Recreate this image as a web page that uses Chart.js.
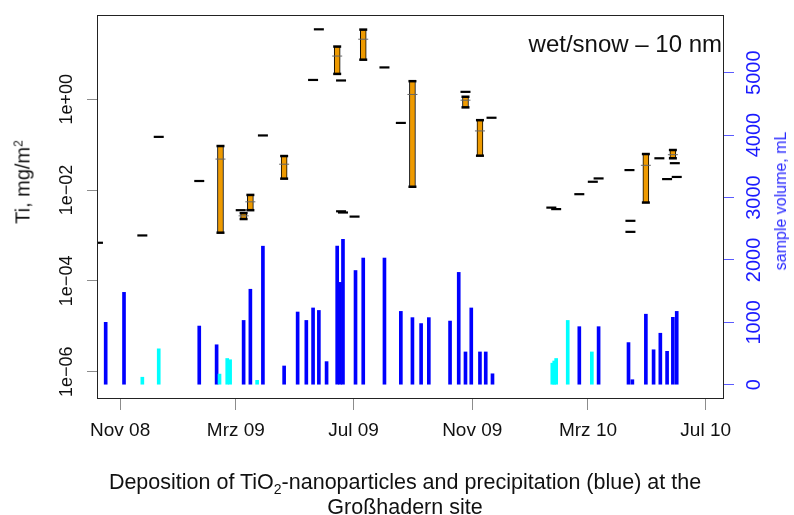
<!DOCTYPE html>
<html>
<head>
<meta charset="utf-8">
<title>TiO2 deposition Großhadern</title>
<script src="https://cdn.jsdelivr.net/npm/chart.js@4.4.1/dist/chart.umd.min.js"></script>
<style>
  body { margin: 0; background: #fff; }
  #wrap { position: relative; width: 794px; height: 515px; font-family: "Liberation Sans", Arial, sans-serif; color: #111; }
  #c { position: absolute; left: 0; top: 0; }
  .rot { position: absolute; white-space: nowrap; transform: translate(-50%, -50%) rotate(-90deg); }
  #ytitle { left: 23px; top: 182px; font-size: 20px; }
  #ytitle sup { font-size: 12px; vertical-align: 7px; line-height: 0; }
  #y2title { left: 781px; top: 201px; font-size: 16px; color: #2a2aff; }
  #note { position: absolute; right: 72px; top: 30px; font-size: 24px; line-height: 28px; white-space: nowrap; }
  #caption { position: absolute; left: 8px; top: 470px; width: 794px; text-align: center; font-size: 21.5px; line-height: 25px; }
  #caption sub { font-size: 14px; vertical-align: -5px; line-height: 0; }
</style>
</head>
<body>
<div id="wrap">
  <canvas id="c" width="794" height="515"></canvas>
  <div class="rot" id="ytitle">Ti, mg/m<sup>2</sup></div>
  <div class="rot" id="y2title">sample volume, mL</div>
  <div id="note">wet/snow &ndash; 10 nm</div>
  <div id="caption">Deposition of TiO<sub>2</sub>-nanoparticles and precipitation (blue) at the<br>Großhadern site</div>
</div>
<script>
// rain samples (blue), sample volume in mL
const rainDates = ['2008-10-17','2008-11-05','2009-01-22','2009-02-09','2009-03-09','2009-03-16','2009-03-29',
  '2009-04-20','2009-05-04','2009-05-13','2009-05-20','2009-05-26','2009-06-03','2009-06-14','2009-06-17',
  '2009-06-20','2009-07-03','2009-07-11','2009-08-02','2009-08-19','2009-08-31','2009-09-09','2009-09-17',
  '2009-10-09','2009-10-18','2009-10-25','2009-10-31','2009-11-09','2009-11-15','2009-11-22','2010-02-20',
  '2010-03-12','2010-04-12','2010-04-16','2010-04-30','2010-05-08','2010-05-15','2010-05-22','2010-05-28','2010-06-01'];
const rainVolume = [1000,1480,940,640,1030,1530,2220,
  300,1165,1030,1230,1190,370,2220,1640,
  2330,1830,2030,2030,1175,1075,980,1075,
  1020,1800,525,1230,525,525,175,930,
  930,675,80,1130,560,825,535,1080,1175];

// snow samples (cyan)
const snowDates = ['2008-11-24','2008-12-11','2009-02-12','2009-02-20','2009-02-23','2009-03-23',
  '2010-01-23','2010-01-25','2010-01-27','2010-02-08','2010-03-05'];
const snowVolume = [120,575,170,420,400,70,345,380,420,1030,525];

// Ti deposition, boxes: min / median / max in mg/m2
const boxDates = ['2009-02-13','2009-03-09','2009-03-16','2009-04-20','2009-06-14','2009-07-11',
  '2009-08-31','2009-10-25','2009-11-09','2010-04-30','2010-05-28'];
const boxLow  = [0.00115,0.0023,0.0036,0.0178,3.6,7.4,0.0118,0.66,0.057,0.0053,0.050];
const boxMed  = [0.048,0.0027,0.0055,0.037,8.9,20.9,1.27,0.95,0.20,0.035,0.060];
const boxHigh = [0.093,0.0031,0.0078,0.056,14.4,34,2.49,1.13,0.345,0.062,0.076];

// Ti deposition, single samples in mg/m2
const singleDates = ['2008-10-09','2008-11-24','2008-12-11','2009-01-22','2009-03-06','2009-03-29',
  '2009-05-20','2009-05-26','2009-06-18','2009-06-18','2009-06-20','2009-07-02','2009-08-02','2009-08-19',
  '2009-10-25','2009-11-21','2010-01-22','2010-01-27','2010-02-20','2010-03-06','2010-03-12','2010-04-13',
  '2010-04-14','2010-04-14','2010-05-14','2010-05-22','2010-05-30','2010-06-01'];
const singleTi = [6.9e-4,1.0e-3,0.148,0.0158,0.0036,0.159,
  2.65,34.5,2.58,0.0034,0.0032,0.0026,5.0,0.30,
  1.45,0.39,0.0041,0.0038,0.0081,0.0152,0.018,0.0275,
  0.0021,0.0012,0.050,0.0174,0.039,0.0194];

// axes
const xStart = '2008-10-08', xEnd = '2010-07-20';
const xTickDates = ['2008-11-01','2009-03-01','2009-07-01','2009-11-01','2010-03-01','2010-07-01'];
const xTickLabels = ['Nov 08','Mrz 09','Jul 09','Nov 09','Mrz 10','Jul 10'];
const yTicks = [1e-6, 1e-4, 1e-2, 1];
const yTickLabels = ['1e\u221206','1e\u221204','1e\u221202','1e+00'];
const volTicks = [0, 1000, 2000, 3000, 4000, 5000];

function day(s) { return Date.parse(s) / 864e5; }
function pts(dates, vals) { return dates.map((d, i) => ({ x: day(d), y: vals[i] })); }

Chart.defaults.font.family = '"Liberation Sans", Arial, sans-serif';

const grey = '#8c8c8c';

// plot frame
const frame = {
  id: 'frame',
  afterDatasetsDraw(chart) {
    const { ctx, chartArea: a } = chart;
    ctx.save();
    ctx.strokeStyle = '#222';
    ctx.lineWidth = 1;
    ctx.strokeRect(a.left + 0.5, a.top + 0.5, a.right - a.left - 1, a.bottom - a.top);
    ctx.restore();
  }
};

function marks(data, radius, width, color) {
  return {
    type: 'scatter', data: data, yAxisID: 'y', clip: 0,
    pointStyle: 'line', pointRadius: radius, pointHoverRadius: radius,
    pointBorderWidth: width, pointBorderColor: color, pointBackgroundColor: color
  };
}

new Chart(document.getElementById('c'), {
  type: 'scatter',
  data: {
    datasets: [
      marks(pts(singleDates, singleTi), 5, 2.2, '#000'),
      marks(pts(boxDates, boxLow).concat(pts(boxDates, boxHigh)), 4, 2.5, '#000'),
      marks(pts(boxDates, boxMed), 5, 1, '#666'),
      {
        type: 'bar', yAxisID: 'y', grouped: false,
        data: boxDates.map((d, i) => ({ x: day(d), y: [boxLow[i], boxHigh[i]] })),
        backgroundColor: '#EE9A00', borderColor: '#000', borderWidth: 1, borderSkipped: false,
        barThickness: 6
      },
      {
        type: 'bar', yAxisID: 'y2', grouped: false,
        data: pts(snowDates, snowVolume),
        backgroundColor: '#00ffff', barThickness: 3
      },
      {
        type: 'bar', yAxisID: 'y2', grouped: false,
        data: pts(rainDates, rainVolume),
        backgroundColor: '#0000ff', barThickness: 3
      }
    ]
  },
  options: {
    responsive: false,
    animation: false,
    events: [],
    layout: { padding: { top: 15, left: 0, right: 0, bottom: 0 } },
    plugins: { legend: { display: false }, tooltip: { enabled: false } },
    scales: {
      x: {
        type: 'linear', position: 'bottom', offset: false,
        min: day(xStart), max: day(xEnd),
        afterBuildTicks: s => { s.ticks = xTickDates.map(d => ({ value: day(d) })); },
        afterFit: s => { s.height = 117; },
        grid: { offset: false, drawOnChartArea: false, drawTicks: true, tickLength: 12, color: grey },
        border: { display: false },
        ticks: { autoSkip: false, maxRotation: 0, padding: 9, color: '#111', font: { size: 19 },
          callback: (v, i) => xTickLabels[i] }
      },
      y: {
        type: 'logarithmic', position: 'left',
        min: 2.64e-7, max: 71.3,
        afterBuildTicks: s => { s.ticks = yTicks.map(v => ({ value: v })); },
        afterFit: s => { s.width = 97; },
        grid: { drawOnChartArea: false, drawTicks: true, tickLength: 10, color: grey },
        border: { display: false },
        ticks: { autoSkip: false, minRotation: 90, maxRotation: 90, crossAlign: 'center', padding: -5,
          color: '#111', font: { size: 18 }, callback: (v, i) => yTickLabels[i] }
      },
      y2: {
        type: 'linear', position: 'right',
        min: -213, max: 5925,
        afterBuildTicks: s => { s.ticks = volTicks.map(v => ({ value: v })); },
        afterFit: s => { s.width = 70; },
        grid: { drawOnChartArea: false, drawTicks: true, tickLength: 10, color: '#5a5aff' },
        border: { display: false },
        ticks: { autoSkip: false, minRotation: 90, maxRotation: 90, crossAlign: 'center', padding: -2,
          color: '#1a1aff', font: { size: 20 }, callback: (v, i) => String(volTicks[i]) }
      }
    }
  },
  plugins: [frame]
});
</script>
</body>
</html>
